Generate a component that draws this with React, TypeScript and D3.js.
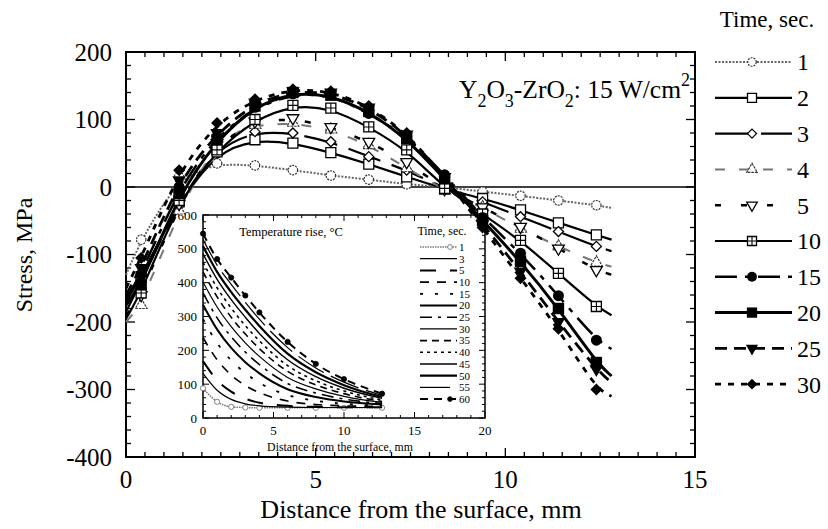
import { useRef, useEffect } from 'react';
import * as d3 from 'd3';

// main chart: residual stress vs depth, one series per heating time
const times = ['1', '2', '3', '4', '5', '10', '15', '20', '25', '30'];
const depth = [0.4, 1.4, 2.4, 3.4, 4.4, 5.4, 6.4, 7.4, 8.4, 9.4, 10.4, 11.4, 12.4];
const stress1 = [-78, 15, 35, 32, 25, 17, 11, 4, 0, -7, -13, -20, -27];
const stress2 = [-133, -22, 52, 70, 65, 51, 34, 15, -3, -17, -34, -53, -71];
const stress3 = [-140, -20, 58, 82, 80, 67, 45, 25, -2, -22, -44, -66, -88];
const stress4 = [-175, -35, 72, 92, 95, 85, 62, 28, -5, -30, -62, -88, -112];
const stress5 = [-160, -25, 65, 97, 102, 89, 67, 37, -3, -30, -59, -91, -123];
const stress10 = [-157, -20, 55, 100, 121, 117, 89, 55, -2, -40, -79, -128, -177];
const stress15 = [-130, 0, 75, 118, 138, 137, 109, 75, 18, -45, -98, -161, -227];
const stress20 = [-145, -10, 70, 120, 140, 136, 112, 72, 12, -50, -110, -180, -260];
const stress25 = [-120, 10, 80, 125, 142, 140, 118, 78, 15, -55, -125, -200, -270];
const stress30 = [-105, 25, 95, 130, 145, 142, 120, 80, 15, -60, -135, -210, -300];
const stressAtSurface = [-130, -170, -185, -200, -190, -195, -165, -175, -160, -150];
const stressAtEnd = [-31, -78, -95, -118, -130, -190, -240, -280, -290, -310];
const lineEndDepth = 12.8;

// inset: temperature rise vs depth
const insetTimes = ['1', '3', '5', '10', '15', '20', '25', '30', '35', '40', '45', '50', '55', '60'];
const insetDepth = [0, 1, 2, 3, 4, 6, 8, 10, 12.7];
const temp1 = [88, 48, 33, 31, 30, 30, 30, 30, 30];
const temp3 = [132, 82, 55, 42, 36, 32, 31, 31, 31];
const temp5 = [168, 112, 78, 57, 45, 36, 33, 32, 32];
const temp10 = [238, 172, 127, 96, 75, 50, 40, 36, 34];
const temp15 = [292, 222, 170, 133, 104, 68, 51, 42, 37];
const temp20 = [335, 262, 207, 165, 132, 85, 62, 49, 40];
const temp25 = [370, 296, 240, 195, 158, 102, 74, 56, 43];
const temp30 = [402, 328, 270, 222, 182, 120, 86, 64, 46];
const temp35 = [432, 358, 298, 248, 205, 138, 98, 72, 49];
const temp40 = [460, 385, 325, 273, 228, 155, 110, 80, 53];
const temp45 = [485, 410, 350, 298, 250, 172, 122, 88, 58];
const temp50 = [508, 432, 372, 320, 272, 190, 135, 97, 62];
const temp55 = [528, 452, 395, 342, 292, 208, 148, 106, 67];
const temp60 = [545, 470, 415, 362, 312, 225, 160, 115, 72];

const stressSeries = [stress1, stress2, stress3, stress4, stress5, stress10, stress15, stress20, stress25, stress30];
const tempSeries = [temp1, temp3, temp5, temp10, temp15, temp20, temp25, temp30, temp35, temp40, temp45, temp50, temp55, temp60];

const mainStyle = [
  { stroke: '#666', dash: '2,1.5', width: 2, marker: 'circle' },
  { stroke: '#000', dash: null, width: 2.2, marker: 'square' },
  { stroke: '#000', dash: '34,12', width: 2.2, marker: 'diamond' },
  { stroke: '#777', dash: '10,14', width: 2, marker: 'triUp' },
  { stroke: '#000', dash: '6,20', width: 2.5, marker: 'triDown' },
  { stroke: '#000', dash: null, width: 2.2, marker: 'squareCross' },
  { stroke: '#000', dash: '22,8,5,8', width: 2.5, marker: 'dot' },
  { stroke: '#000', dash: null, width: 3, marker: 'squareFill' },
  { stroke: '#000', dash: '12,7', width: 2.8, marker: 'triDownFill' },
  { stroke: '#000', dash: '6,7', width: 2.8, marker: 'diamondFill' },
];

const insetStyle = [
  { stroke: '#777', dash: '1.5,1', width: 1.5 },
  { stroke: '#000', dash: null, width: 1.2 },
  { stroke: '#000', dash: '16,14', width: 2 },
  { stroke: '#000', dash: '9,8', width: 1.6 },
  { stroke: '#000', dash: '3,12', width: 1.8 },
  { stroke: '#000', dash: null, width: 2 },
  { stroke: '#000', dash: '12,6,3,6', width: 1.6 },
  { stroke: '#000', dash: null, width: 1.2 },
  { stroke: '#000', dash: '7,5', width: 1.6 },
  { stroke: '#000', dash: '3,4', width: 1.6 },
  { stroke: '#000', dash: null, width: 1.4 },
  { stroke: '#000', dash: null, width: 2.2 },
  { stroke: '#000', dash: '30,8', width: 1.2 },
  { stroke: '#000', dash: '8,6', width: 2 },
];

const FONT = '"Liberation Serif", "Times New Roman", serif';

type Sel = d3.Selection<SVGGElement, unknown, null, undefined>;

function drawMarker(g: Sel, kind: string, x: number, y: number, scale = 1) {
  const t = `translate(${x},${y})`;
  const sym = (type: d3.SymbolType, size: number) => d3.symbol(type, size * scale * scale)() as string;
  const diamond = (r: number) => `M0,${-r * scale}L${r * scale},0L0,${r * scale}L${-r * scale},0Z`;
  const openPath = (d: string, tr = t) =>
    g.append('path').attr('d', d).attr('transform', tr).attr('fill', '#fff').attr('stroke', '#000').attr('stroke-width', 1.3);
  switch (kind) {
    case 'circle':
      openPath(sym(d3.symbolCircle, 70)).attr('stroke', '#333').attr('stroke-width', 1.2).attr('stroke-dasharray', '2,1');
      break;
    case 'square':
      openPath(sym(d3.symbolSquare, 100));
      break;
    case 'diamond':
      openPath(diamond(5));
      break;
    case 'triUp':
      openPath(sym(d3.symbolTriangle, 60)).attr('stroke', '#333').attr('stroke-width', 1.2).attr('stroke-dasharray', '2.5,1');
      break;
    case 'triDown':
      openPath(sym(d3.symbolTriangle, 60), `${t} rotate(180)`);
      break;
    case 'squareCross': {
      const s = 5 * scale;
      openPath(sym(d3.symbolSquare, 100));
      g.append('path').attr('d', `M${-s},0H${s}M0,${-s}V${s}`).attr('transform', t)
        .attr('stroke', '#000').attr('stroke-width', 1.1);
      break;
    }
    case 'dot':
      g.append('path').attr('d', sym(d3.symbolCircle, 95)).attr('transform', t).attr('fill', '#000');
      break;
    case 'squareFill':
      g.append('path').attr('d', sym(d3.symbolSquare, 130)).attr('transform', t).attr('fill', '#000');
      break;
    case 'triDownFill':
      g.append('path').attr('d', sym(d3.symbolTriangle, 80)).attr('transform', `${t} rotate(180)`).attr('fill', '#000');
      break;
    case 'diamondFill':
      g.append('path').attr('d', diamond(6)).attr('transform', t).attr('fill', '#000');
      break;
  }
}

function StressChart() {
  const ref = useRef<SVGSVGElement>(null);

  useEffect(() => {
    if (!ref.current) return;
    const svg = d3.select(ref.current);
    svg.selectAll('*').remove();
    const root = svg.append('g') as unknown as Sel;

    const x = d3.scaleLinear().domain([0, 15]).range([126, 695]);
    const y = d3.scaleLinear().domain([-400, 200]).range([457, 52]);

    // ticks, inward on all four sides
    const ticks = root.append('g').attr('stroke', '#000').attr('stroke-width', 1.3);
    for (const v of d3.range(0, 15.01, 0.5)) {
      const major = Math.abs(v % 5) < 1e-6;
      const len = major ? 9 : 5;
      ticks.append('line').attr('x1', x(v)).attr('x2', x(v)).attr('y1', y(-400)).attr('y2', y(-400) - len);
      ticks.append('line').attr('x1', x(v)).attr('x2', x(v)).attr('y1', y(200)).attr('y2', y(200) + len);
    }
    for (const v of d3.range(-400, 200.01, 20)) {
      const major = v % 100 === 0;
      const len = major ? 9 : 5;
      ticks.append('line').attr('x1', x(0)).attr('x2', x(0) + len).attr('y1', y(v)).attr('y2', y(v));
      ticks.append('line').attr('x1', x(15)).attr('x2', x(15) - len).attr('y1', y(v)).attr('y2', y(v));
    }

    root.append('rect')
      .attr('x', x(0)).attr('y', y(200))
      .attr('width', x(15) - x(0)).attr('height', y(-400) - y(200))
      .attr('fill', 'none').attr('stroke', '#000').attr('stroke-width', 2);

    root.append('line')
      .attr('x1', x(0)).attr('x2', x(15)).attr('y1', y(0)).attr('y2', y(0))
      .attr('stroke', '#000').attr('stroke-width', 1.5);

    // tick labels
    for (const v of d3.range(-400, 201, 100)) {
      root.append('text').attr('x', 112).attr('y', y(v)).attr('dy', '0.35em')
        .attr('text-anchor', 'end').attr('font-size', 25).attr('font-family', FONT).text(v);
    }
    for (const v of [0, 5, 10, 15]) {
      root.append('text').attr('x', x(v)).attr('y', 488)
        .attr('text-anchor', 'middle').attr('font-size', 25).attr('font-family', FONT).text(v);
    }
    root.append('text').attr('x', 421).attr('y', 518).attr('text-anchor', 'middle')
      .attr('font-size', 26).attr('font-family', FONT).text('Distance from the surface, mm');
    root.append('text').attr('transform', 'translate(32,255) rotate(-90)').attr('text-anchor', 'middle')
      .attr('font-size', 24).attr('font-family', FONT).text('Stress, MPa');

    // annotation
    const ann = root.append('text').attr('x', 690).attr('y', 98).attr('text-anchor', 'end')
      .attr('font-size', 25.5).attr('font-family', FONT);
    ann.append('tspan').text('Y');
    ann.append('tspan').attr('font-size', 18).attr('dy', 9).text('2');
    ann.append('tspan').attr('dy', -9).text('O');
    ann.append('tspan').attr('font-size', 18).attr('dy', 9).text('3');
    ann.append('tspan').attr('dy', -9).text('-ZrO');
    ann.append('tspan').attr('font-size', 18).attr('dy', 9).text('2');
    ann.append('tspan').attr('dy', -9).text(': 15 W/cm');
    ann.append('tspan').attr('font-size', 18).attr('dy', -12).text('2');

    // ---- inset ----
    const ix = d3.scaleLinear().domain([0, 20]).range([203, 485]);
    const iy = d3.scaleLinear().domain([0, 600]).range([418, 215]);
    const inset = root.append('g') as unknown as Sel;
    inset.append('rect').attr('x', ix(0)).attr('y', iy(600))
      .attr('width', ix(20) - ix(0)).attr('height', iy(0) - iy(600)).attr('fill', '#fff');

    const itk = inset.append('g').attr('stroke', '#000').attr('stroke-width', 1);
    for (const v of d3.range(0, 20.01, 1)) {
      const len = v % 5 === 0 ? 6 : 3;
      itk.append('line').attr('x1', ix(v)).attr('x2', ix(v)).attr('y1', iy(0)).attr('y2', iy(0) - len);
      itk.append('line').attr('x1', ix(v)).attr('x2', ix(v)).attr('y1', iy(600)).attr('y2', iy(600) + len);
    }
    for (const v of d3.range(0, 600.01, 20)) {
      const len = v % 100 === 0 ? 6 : 3;
      itk.append('line').attr('x1', ix(0)).attr('x2', ix(0) + len).attr('y1', iy(v)).attr('y2', iy(v));
      itk.append('line').attr('x1', ix(20)).attr('x2', ix(20) - len).attr('y1', iy(v)).attr('y2', iy(v));
    }
    inset.append('rect').attr('x', ix(0)).attr('y', iy(600))
      .attr('width', ix(20) - ix(0)).attr('height', iy(0) - iy(600))
      .attr('fill', 'none').attr('stroke', '#000').attr('stroke-width', 1.5);

    for (const v of d3.range(0, 601, 100)) {
      inset.append('text').attr('x', 197).attr('y', iy(v)).attr('dy', '0.35em').attr('text-anchor', 'end')
        .attr('font-size', 13).attr('font-family', FONT).text(v);
    }
    for (const v of [0, 5, 10, 15, 20]) {
      inset.append('text').attr('x', ix(v)).attr('y', 435).attr('text-anchor', 'middle')
        .attr('font-size', 13).attr('font-family', FONT).text(v);
    }
    inset.append('text').attr('x', 340).attr('y', 451).attr('text-anchor', 'middle')
      .attr('font-size', 11.8).attr('font-family', FONT).text('Distance from the surface, mm');
    inset.append('text').attr('x', 291).attr('y', 236).attr('text-anchor', 'middle')
      .attr('font-size', 12.5).attr('font-family', FONT).text('Temperature rise, \u00B0C');
    inset.append('text').attr('x', 442).attr('y', 235).attr('text-anchor', 'middle')
      .attr('font-size', 12).attr('font-family', FONT).text('Time, sec.');

    const iline = d3.line<[number, number]>().x((d) => ix(d[0])).y((d) => iy(d[1])).curve(d3.curveMonotoneX);
    tempSeries.forEach((vals, i) => {
      const st = insetStyle[i];
      const pts = insetDepth.map((d, k) => [d, vals[k]] as [number, number]);
      inset.append('path').attr('d', iline(pts) as string).attr('fill', 'none')
        .attr('stroke', st.stroke).attr('stroke-width', st.width)
        .attr('stroke-dasharray', st.dash ?? null);
      if (i === 0 || i === tempSeries.length - 1) {
        pts.forEach((p) => {
          inset.append('circle').attr('cx', ix(p[0])).attr('cy', iy(p[1])).attr('r', 2.6)
            .attr('fill', i === 0 ? '#fff' : '#000').attr('stroke', i === 0 ? '#666' : '#000').attr('stroke-width', 0.8);
        });
      }
      // inset legend
      const ly = 247 + i * 11.7;
      inset.append('line').attr('x1', 420).attr('x2', 457).attr('y1', ly).attr('y2', ly)
        .attr('stroke', st.stroke).attr('stroke-width', st.width).attr('stroke-dasharray', st.dash ?? null);
      if (i === 0 || i === tempSeries.length - 1) {
        inset.append('circle').attr('cx', 450).attr('cy', ly).attr('r', 2.4)
          .attr('fill', i === 0 ? '#fff' : '#000').attr('stroke', i === 0 ? '#666' : '#000').attr('stroke-width', 0.8);
      }
      inset.append('text').attr('x', 459).attr('y', ly).attr('dy', '0.35em')
        .attr('font-size', 11).attr('font-family', FONT).text(insetTimes[i]);
    });

    // ---- main series ----
    const line = d3.line<[number, number]>().x((d) => x(d[0])).y((d) => y(d[1])).curve(d3.curveBasis);
    const series = root.append('g') as unknown as Sel;
    stressSeries.forEach((vals, i) => {
      const st = mainStyle[i];
      const pts: [number, number][] = [
        [0, stressAtSurface[i]],
        ...depth.map((d, k) => [d, vals[k]] as [number, number]),
        [lineEndDepth, stressAtEnd[i]],
      ];
      series.append('path').attr('d', line(pts) as string).attr('fill', 'none')
        .attr('stroke', st.stroke).attr('stroke-width', st.width)
        .attr('stroke-dasharray', st.dash ?? null);
    });
    stressSeries.forEach((vals, i) => {
      depth.forEach((d, k) => drawMarker(series, mainStyle[i].marker, x(d), y(vals[k])));
    });

    // ---- legend ----
    const leg = root.append('g') as unknown as Sel;
    leg.append('text').attr('x', 767).attr('y', 27).attr('text-anchor', 'middle')
      .attr('font-size', 23).attr('font-family', FONT).text('Time, sec.');
    times.forEach((t, i) => {
      const st = mainStyle[i];
      const ly = 62 + i * 35.8;
      leg.append('line').attr('x1', 715).attr('x2', 792).attr('y1', ly).attr('y2', ly)
        .attr('stroke', st.stroke).attr('stroke-width', st.width).attr('stroke-dasharray', st.dash ?? null);
      drawMarker(leg, st.marker, 752, ly, 0.9);
      leg.append('text').attr('x', 797).attr('y', ly).attr('dy', '0.35em')
        .attr('font-size', 24).attr('font-family', FONT).text(t);
    });
  }, []);

  return <svg ref={ref} width={828} height={529} style={{ position: 'absolute', left: 0, top: 0, background: '#fff' }} />;
}

export default function App() {
  return <StressChart />;
}
